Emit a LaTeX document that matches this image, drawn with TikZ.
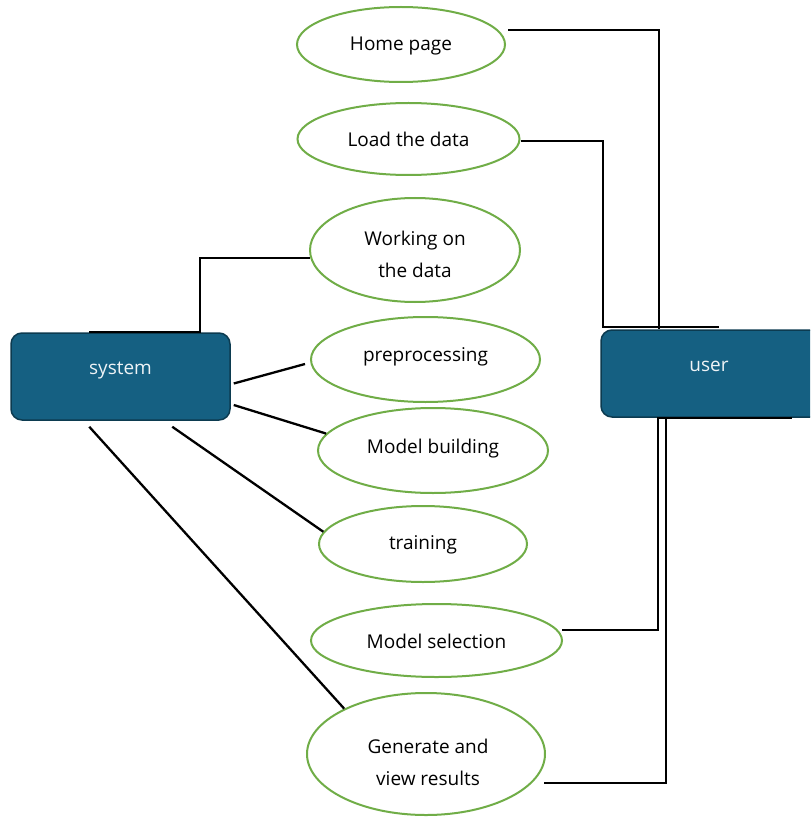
\documentclass[tikz,border=0pt]{standalone}
\usepackage{fontspec}
\setmainfont{Open Sans}
\usetikzlibrary{shapes.geometric}
\definecolor{ugreen}{HTML}{70AD47}
\definecolor{boxfill}{HTML}{156082}
\definecolor{boxline}{HTML}{0C3B50}
\definecolor{boxtext}{HTML}{EEF3F6}
\tikzset{
  usecase/.style={ellipse, draw=ugreen, line width=2pt, fill=white, inner sep=0pt,
    align=center, font=\fontsize{19}{32}\selectfont},
  uclabel/.style={align=center, font=\fontsize{19}{32}\selectfont, inner sep=0pt},
  actor/.style={rectangle, rounded corners=11pt, draw=boxline, line width=1.5pt, fill=boxfill,
    inner sep=0pt},
  actorlabel/.style={text=boxtext, font=\fontsize{19}{22}\selectfont, inner sep=0pt},
  conn/.style={draw=black, line width=2.3pt}
}
\begin{document}
\begin{tikzpicture}[x=1pt,y=-1pt]
\useasboundingbox (0,0) rectangle (810,818);
\begin{scope}
\clip (0,0) rectangle (810,818);
% actors
\node[actor, minimum width=219pt, minimum height=87pt] (system) at (120.5,376.5) {};
\node[actorlabel] (systemlabel) at (120.5,371) {system};
\node[actor, minimum width=230pt, minimum height=87pt] (user) at (716,373.5) {};
\node[actorlabel] (userlabel) at (709,366) {user};

% use cases
\node[usecase, minimum width=208pt, minimum height=75pt] (home) at (401,44.5) {};
\node[uclabel] (homelabel) at (401,46.5) {Home page};
\node[usecase, minimum width=222pt, minimum height=72pt] (load) at (408.5,139) {};
\node[uclabel] (loadlabel) at (408.5,139) {Load the data};
\node[usecase, minimum width=210pt, minimum height=104pt] (work) at (415,250) {};
\node[uclabel] (worklabel) at (415,254.5) {Working on\\the data};
\node[usecase, minimum width=229pt, minimum height=85pt] (prep) at (425.5,359.5) {};
\node[uclabel] (preplabel) at (425.5,357) {preprocessing};
\node[usecase, minimum width=230pt, minimum height=85pt] (build) at (433,450.5) {};
\node[uclabel] (buildlabel) at (433,449) {Model building};
\node[usecase, minimum width=208pt, minimum height=76pt] (train) at (423,544) {};
\node[uclabel] (trainlabel) at (423,545) {training};
\node[usecase, minimum width=251pt, minimum height=73pt] (select) at (436.5,640.5) {};
\node[uclabel] (selectlabel) at (436.5,641) {Model selection};
\node[usecase, minimum width=238pt, minimum height=122pt] (gen) at (426,754) {};
\node[uclabel] (genlabel) at (428,762) {Generate and\\view results};

% connectors to user
\draw[conn] ([xshift=2pt,yshift=14.5pt]home.east) -| ([xshift=59pt]user.north west);
\draw[conn] ([yshift=-2pt]load.east) -| ([xshift=3pt,yshift=2.5pt]user.north west)
  -- ([xshift=119pt,yshift=2.5pt]user.north west);
\draw[conn] ([xshift=-1pt,yshift=10.5pt]select.east) -| ([xshift=58pt]user.south west);
\draw[conn] ([xshift=-2pt,yshift=-29pt]gen.east) -| ([xshift=66pt,yshift=-0.5pt]user.south west);
\draw[conn] ([xshift=57pt,yshift=-0.5pt]user.south west) -- ([xshift=192pt,yshift=-0.5pt]user.south west);

% connectors to system
\draw[conn] ([xshift=1pt,yshift=-8pt]work.west) -| ([xshift=190pt]system.north west)
  -- ([xshift=79pt]system.north west);
\draw[conn] ([xshift=3pt,yshift=-7pt]system.east) -- ([xshift=-5pt,yshift=-4.5pt]prep.west);
\draw[conn] ([xshift=3pt,yshift=-28.5pt]system.east) -- (build.171);
\draw[conn] ([xshift=162pt,yshift=-6pt]system.south west) -- (train.173);
\draw[conn] ([xshift=79pt,yshift=-6pt]system.south west) -- (gen.151);
\end{scope}
\end{tikzpicture}
\end{document}
